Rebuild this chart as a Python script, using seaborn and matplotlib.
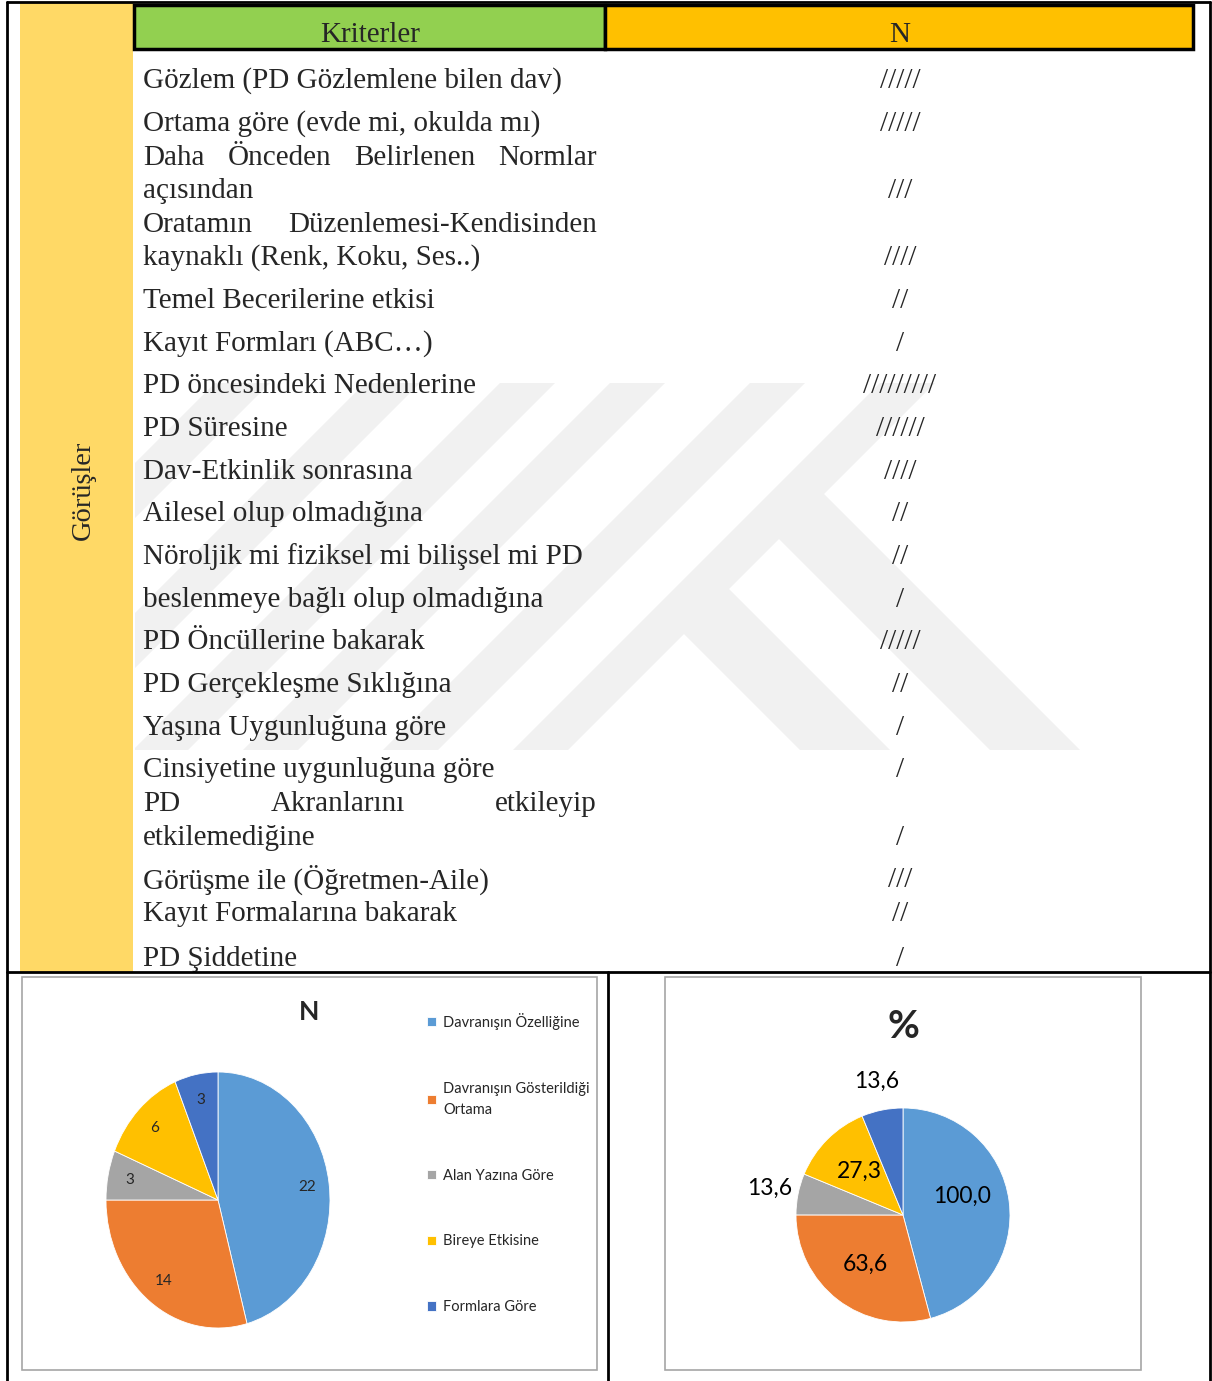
import matplotlib
matplotlib.use("Agg")
import matplotlib.pyplot as plt
from matplotlib import font_manager
from matplotlib.patches import Rectangle, Polygon
import numpy as np
import seaborn as sns

# ---- data ----
kriterler = [
    "Gözlem (PD Gözlemlene bilen dav)",
    "Ortama göre (evde mi, okulda mı)",
    "Daha Önceden Belirlenen Normlar|açısından",
    "Oratamın Düzenlemesi-Kendisinden|kaynaklı (Renk, Koku, Ses..)",
    "Temel Becerilerine etkisi",
    "Kayıt Formları (ABC…)",
    "PD öncesindeki Nedenlerine",
    "PD Süresine",
    "Dav-Etkinlik sonrasına",
    "Ailesel olup olmadığına",
    "Nöroljik mi fiziksel mi bilişsel mi PD",
    "beslenmeye bağlı olup olmadığına",
    "PD Öncüllerine bakarak",
    "PD Gerçekleşme Sıklığına",
    "Yaşına Uygunluğuna göre",
    "Cinsiyetine uygunluğuna göre",
    "PD Akranlarını etkileyip|etkilemediğine",
    "Görüşme ile (Öğretmen-Aile)",
    "Kayıt Formalarına bakarak",
    "PD Şiddetine",
]
tally = [5, 5, 3, 4, 2, 1, 9, 6, 4, 2, 2, 1, 5, 2, 1, 1, 1, 3, 2, 1]

kategoriler = ["Davranışın Özelliğine", "Davranışın Gösterildiği\nOrtama",
               "Alan Yazına Göre", "Bireye Etkisine", "Formlara Göre"]
n_values = [22, 14, 3, 6, 3]
pct_values = [100.0, 63.6, 13.6, 27.3, 13.6]

# ---- layout (pixels) ----
W, H = 1212, 1381
row_y = [78, 121, (155, 188), (222, 255), 298, 341, 383, 426, 469, 511,
         554, 597, 639, 682, 725, 767, (801, 835), 877, 911, 956]
DY = 3  # va='center' sits a little high for this font

sns.set_theme(style="white")
avail = {f.name for f in font_manager.fontManager.ttflist}
serif = "Liberation Serif" if "Liberation Serif" in avail else "DejaVu Serif"
narrow = next((f for f in ["Liberation Sans Narrow", "Lato", "Open Sans"] if f in avail), "DejaVu Sans")
plt.rcParams["font.family"] = [serif, "DejaVu Sans"]

excel = sns.color_palette(["#5B9BD5", "#ED7D31", "#A5A5A5", "#FFC000", "#4472C4"])

fig = plt.figure(figsize=(W / 100, H / 100), dpi=100)
bg = fig.add_axes([0, 0, 1, 1])
bg.set_xlim(0, W)
bg.set_ylim(H, 0)
bg.axis("off")

# faint watermark (diagonal stripes of the background logo)
wm = "#f1f1f1"
clip = Rectangle((135, 383), 1060, 367, transform=bg.transData, facecolor="none", edgecolor="none")
bg.add_patch(clip)
top, bottom = 383, 750
for x0 in [215, 365, 500, 610, 750, 880]:
    d = bottom - top
    p = Polygon([(x0, top), (x0 + 55, top), (x0 + 55 - d, bottom), (x0 - d, bottom)],
                closed=True, facecolor=wm, edgecolor="none", zorder=0)
    bg.add_patch(p)
    p.set_clip_path(clip)
for x0, y0 in [(760, 520), (670, 620)]:
    d = bottom - y0
    p = Polygon([(x0, y0), (x0 + 45, y0 - 45), (x0 + 45 + d + 45, bottom), (x0 + d, bottom)],
                closed=True, facecolor=wm, edgecolor="none", zorder=0)
    bg.add_patch(p)
    p.set_clip_path(clip)

# left label column and header
bg.add_patch(Rectangle((20, 3), 113, 969, facecolor="#FFD966", edgecolor="none", zorder=1))
bg.text(83, 490, "Görüşler", rotation=90, ha="center", va="center", fontsize=20.5, zorder=3)
bg.add_patch(Rectangle((134, 5), 471, 44, facecolor="#92D050", edgecolor="black", lw=2.5, zorder=2))
bg.add_patch(Rectangle((605, 5), 588, 44, facecolor="#FFC000", edgecolor="black", lw=2.5, zorder=2))
bg.text(370, 32 + DY, "Kriterler", ha="center", va="center", fontsize=21, zorder=3)
bg.text(900, 32 + DY, "N", ha="center", va="center", fontsize=21, zorder=3)

# outer rules
line_kw = dict(color="black", lw=2, zorder=4)
bg.plot([7, 7], [2, H], **line_kw)
bg.plot([1210, 1210], [2, H], **line_kw)
bg.plot([7, 1210], [2, 2], **line_kw)
bg.plot([7, 1210], [972, 972], **line_kw)
bg.plot([608, 608], [972, H], **line_kw)

renderer = fig.canvas.get_renderer()
FS = 21
x_left, x_right = 143, 597


def justified(line, y):
    words = line.split()
    txts = [bg.text(0, y, w, ha="left", va="center", fontsize=FS, zorder=3) for w in words]
    widths = [t.get_window_extent(renderer).width for t in txts]
    gap = (x_right - x_left - sum(widths)) / (len(words) - 1)
    x = x_left
    for t, w in zip(txts, widths):
        t.set_x(x)
        x += w + gap


for label, n, y in zip(kriterler, tally, row_y):
    if isinstance(y, tuple):
        first, second = label.split("|")
        justified(first, y[0] + DY)
        bg.text(x_left, y[1] + DY, second, ha="left", va="center", fontsize=FS, zorder=3)
        ty = y[1]
    else:
        bg.text(x_left, y + DY, label, ha="left", va="center", fontsize=FS, zorder=3)
        ty = y
    bg.text(900, ty + DY, "/" * n, ha="center", va="center", fontsize=FS, zorder=3)

# chart frames
for x0, x1 in [(22, 597), (665, 1141)]:
    bg.add_patch(Rectangle((x0, 977), x1 - x0, 393, facecolor="none",
                           edgecolor="#A6A6A6", lw=1.2, zorder=2))


def px_axes(x0, y0, x1, y1):
    return fig.add_axes([x0 / W, 1 - y1 / H, (x1 - x0) / W, (y1 - y0) / H])


# N pie
ax1 = px_axes(106, 1072, 330, 1328)
wedges1, _, auto1 = ax1.pie(n_values, colors=excel, startangle=90, counterclock=False,
                            autopct=lambda p: f"{p * sum(n_values) / 100:.0f}",
                            pctdistance=0.8, wedgeprops=dict(edgecolor="white", lw=0.6),
                            textprops=dict(family=narrow, fontsize=11, color="#262626"))
ax1.set_aspect("auto")
ax1.set_xlim(-1, 1)
ax1.set_ylim(-1, 1)
bg.text(309, 1012, "N", ha="center", va="center", fontsize=19, fontweight="bold",
        family=narrow, zorder=3)

leg = fig.legend(wedges1, kategoriler, loc="upper left", bbox_to_anchor=(421 / W, 1 - 1007 / H),
                 frameon=False, prop=dict(family=narrow, size=10.5), labelspacing=3.55,
                 handlelength=0.6, handleheight=0.6, handletextpad=0.5, borderaxespad=0)
for t in leg.get_texts():
    t.set_linespacing(1.65)

# % pie
ax2 = px_axes(796, 1108, 1010, 1322)
wedges2 = ax2.pie(pct_values, colors=excel, startangle=90, counterclock=False,
                  wedgeprops=dict(edgecolor="white", lw=0.6))[0]
ax2.set_aspect("auto")
ax2.set_xlim(-1, 1)
ax2.set_ylim(-1, 1)
for w, v in zip(wedges2, pct_values):
    mid = np.deg2rad((w.theta1 + w.theta2) / 2)
    if v > 20:
        r, dang = 0.58, (0.18 if v > 90 else 0)
    else:
        r, dang = 1.27, 0.0
    ax2.text(r * np.cos(mid + dang), r * np.sin(mid + dang), f"{v:.1f}".replace(".", ","),
             ha="center", va="center", family=narrow, fontsize=16.5, color="black",
             clip_on=False)
bg.text(903, 1027, "%", ha="center", va="center", fontsize=28, fontweight="bold",
        family=narrow, zorder=3)

fig.savefig("out.png", dpi=100)
